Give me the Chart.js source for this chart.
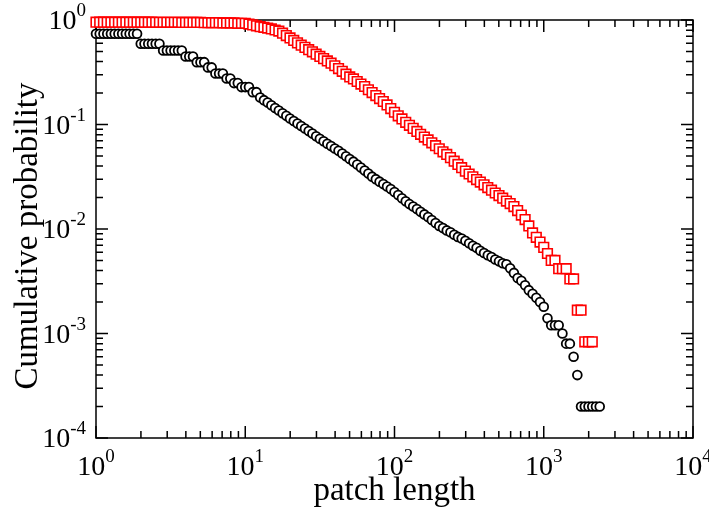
<!DOCTYPE html>
<html><head><meta charset="utf-8">
<script src="https://cdn.jsdelivr.net/npm/chart.js@4/dist/chart.umd.min.js"></script>
<style>html,body{margin:0;padding:0;background:#fff}#wrap{width:709px;height:510px}</style>
</head><body><div id="wrap"><canvas id="c" width="709" height="510"></canvas></div>
<script>
const patchLength = [
1, 1.059, 1.122, 1.189, 1.259, 1.334, 1.413, 1.496, 1.585, 1.679,
1.778, 1.884, 1.995, 2.113, 2.239, 2.371, 2.512, 2.661, 2.818, 2.985,
3.162, 3.350, 3.548, 3.758, 3.981, 4.217, 4.467, 4.732, 5.012, 5.309,
5.623, 5.957, 6.310, 6.683, 7.079, 7.499, 7.943, 8.414, 8.913, 9.441,
10.00, 10.59, 11.22, 11.89, 12.59, 13.34, 14.13, 14.96, 15.85, 16.79,
17.78, 18.84, 19.95, 21.13, 22.39, 23.71, 25.12, 26.61, 28.18, 29.85,
31.62, 33.50, 35.48, 37.58, 39.81, 42.17, 44.67, 47.32, 50.12, 53.09,
56.23, 59.57, 63.10, 66.83, 70.79, 74.99, 79.43, 84.14, 89.13, 94.41,
100.0, 105.9, 112.2, 118.9, 125.9, 133.4, 141.3, 149.6, 158.5, 167.9,
177.8, 188.4, 199.5, 211.3, 223.9, 237.1, 251.2, 266.1, 281.8, 298.5,
316.2, 335.0, 354.8, 375.8, 398.1, 421.7, 446.7, 473.2, 501.2, 530.9,
562.3, 595.7, 631.0, 668.3, 707.9, 749.9, 794.3, 841.4, 891.3, 944.1,
1000, 1059, 1122, 1189, 1259, 1334, 1413, 1496, 1585, 1679,
1778, 1884, 1995, 2113, 2239, 2371, 2512];

const blackProb = [
0.738,0.738,0.738,0.738,0.738,0.738,0.738,0.738,0.738,0.738,0.738,0.738,
0.592,0.592,0.592,0.592,0.592,0.592,
0.511,0.511,0.511,0.511,0.511,0.511,
0.448,0.448,0.448,
0.395,0.395,0.395,
0.352,0.352,
0.308,0.308,0.308,
0.276,0.276,
0.249,0.249,
0.228,0.228,0.228,
0.204,0.204,
0.181,0.171,0.162,0.153,0.144,0.136,0.128,0.121,0.114,0.108,
0.102,0.0968,0.0916,0.0865,0.0818,0.0773,0.0730,0.0691,0.0655,0.0621,
0.0590,0.0560,0.0527,0.0497,0.0468,0.0441,0.0414,0.0387,0.0362,0.0339,
0.0317,0.0300,0.0284,0.0269,0.0255,0.0241,0.0226,0.0211,0.0197,0.0184,
0.0173,0.0164,0.0155,0.0146,0.0138,0.0130,0.0122,0.0114,0.0107,0.0102,
0.0097,0.0093,0.0088,0.0084,0.0081,0.0077,0.0073,0.0069,0.0066,0.0062,
0.0059,0.0056,0.0054,0.0051,0.0049,0.0047,0.0046,0.0042,0.0038,0.0034,
0.0032,0.0029,0.0026,0.0024,0.0022,0.0020,0.0018,0.0014,0.0012,0.0012,
0.0012,0.0010,0.0008,0.0008,0.0006,0.0004,
0.0002,0.0002,0.0002,0.0002,0.0002,0.0002];

const redProb = [
0.953,0.953,0.953,0.953,0.953,0.953,0.953,0.953,0.953,0.953,0.953,0.953,0.953,0.953,0.953,0.953,
0.950,0.950,0.950,0.950,0.950,0.950,0.950,
0.947,0.947,0.947,0.947,0.947,0.947,
0.943,0.943,0.943,0.943,0.943,
0.938,0.938,0.938,0.938,
0.930,0.930,0.930,
0.914,0.898,0.880,0.863,0.852,0.838,0.822,0.802,0.783,0.748,
0.710,0.673,0.638,0.604,0.574,0.547,0.520,0.496,0.471,0.448,
0.427,0.406,0.386,0.365,0.343,0.323,0.303,0.285,0.273,0.258,
0.244,0.231,0.215,0.202,0.189,0.177,0.166,0.154,0.142,0.131,
0.121,0.113,0.105,0.0983,0.0918,0.0859,0.0806,0.0758,0.0711,0.0668,
0.0627,0.0586,0.0548,0.0517,0.0482,0.0446,0.0415,0.0386,0.0358,0.0336,
0.0316,0.0297,0.0281,0.0265,0.0249,0.0235,0.0221,0.0209,0.0197,0.0185,
0.0175,0.0164,0.0150,0.0136,0.0123,0.0107,0.00917,0.00833,0.0075,0.00667,
0.00583,0.005,0.005,0.00417,0.00417,0.00417,0.00333,0.00333,0.00167,0.00167,
0.000833,0.000833,0.000833];

const xDecades = [1, 10, 100, 1000, 10000];
const xExponents = ['0', '1', '2', '3', '4'];
const yDecades = [1, 0.1, 0.01, 0.001, 0.0001];
const yExponents = ['0', '-1', '-2', '-3', '-4'];
const minorSteps = [2, 3, 4, 5, 6, 7, 8, 9];
const xTitle = 'patch length';
const yTitle = 'Cumulative probability';

const FONT = "'Liberation Serif', 'Times New Roman', serif";

function toPoints(ys) {
  return ys.map((v, i) => ({ x: patchLength[i], y: v }));
}

function drawPow(ctx, exp, px, py, align) {
  const big = 28, small = 19;
  ctx.font = big + 'px ' + FONT;
  const w1 = ctx.measureText('10').width;
  ctx.font = small + 'px ' + FONT;
  const w2 = ctx.measureText(exp).width;
  let x0;
  if (align === 'center') x0 = px - (w1 + w2) / 2;
  else x0 = px - (w1 + w2);
  ctx.textAlign = 'left';
  ctx.textBaseline = 'alphabetic';
  ctx.font = big + 'px ' + FONT;
  ctx.fillText('10', x0, py);
  ctx.font = small + 'px ' + FONT;
  ctx.fillText(exp, x0 + w1, py - 13);
}

const framePlugin = {
  id: 'frame',
  beforeDatasetsDraw(chart) {
    const { ctx, chartArea: a, scales: { x, y } } = chart;
    ctx.save();
    ctx.strokeStyle = '#000';
    ctx.lineWidth = 1.5;
    ctx.strokeRect(a.left, a.top, a.right - a.left, a.bottom - a.top);
    const major = 12, minor = 7;
    ctx.beginPath();
    xDecades.forEach((d, i) => {
      const p = x.getPixelForValue(d);
      ctx.moveTo(p, a.bottom); ctx.lineTo(p, a.bottom - major);
      ctx.moveTo(p, a.top); ctx.lineTo(p, a.top + major);
      if (i < xDecades.length - 1) {
        minorSteps.forEach(m => {
          const q = x.getPixelForValue(d * m);
          ctx.moveTo(q, a.bottom); ctx.lineTo(q, a.bottom - minor);
          ctx.moveTo(q, a.top); ctx.lineTo(q, a.top + minor);
        });
      }
    });
    yDecades.forEach((d, i) => {
      const p = y.getPixelForValue(d);
      ctx.moveTo(a.left, p); ctx.lineTo(a.left + major, p);
      ctx.moveTo(a.right, p); ctx.lineTo(a.right - major, p);
      if (i < yDecades.length - 1) {
        minorSteps.forEach(m => {
          const q = y.getPixelForValue(d * m / 10);
          ctx.moveTo(a.left, q); ctx.lineTo(a.left + minor, q);
          ctx.moveTo(a.right, q); ctx.lineTo(a.right - minor, q);
        });
      }
    });
    ctx.stroke();
    ctx.restore();
  },
  afterDraw(chart) {
    const { ctx, chartArea: a, scales: { x, y } } = chart;
    ctx.save();
    ctx.fillStyle = '#000';
    xDecades.forEach((d, i) => {
      drawPow(ctx, xExponents[i], x.getPixelForValue(d), a.bottom + 37, 'center');
    });
    yDecades.forEach((d, i) => {
      drawPow(ctx, yExponents[i], a.left - 10, y.getPixelForValue(d) + 9, 'right');
    });
    ctx.font = '33px ' + FONT;
    ctx.textAlign = 'center';
    ctx.textBaseline = 'alphabetic';
    ctx.fillText(xTitle, (a.left + a.right) / 2, 500);
    ctx.translate(37, 236);
    ctx.rotate(-Math.PI / 2);
    ctx.fillText(yTitle, 0, 0);
    ctx.restore();
  }
};

new Chart(document.getElementById('c'), {
  type: 'scatter',
  data: {
    datasets: [
      {
        label: 'black',
        data: toPoints(blackProb),
        pointStyle: 'circle',
        pointRadius: 4.4,
        pointHoverRadius: 4.4,
        borderColor: '#000',
        backgroundColor: '#fff',
        borderWidth: 1.8,
        clip: false
      },
      {
        label: 'red',
        data: toPoints(redProb),
        pointStyle: 'rect',
        pointRadius: 6.8,
        pointHoverRadius: 6.8,
        borderColor: '#ff0000',
        backgroundColor: '#fff',
        borderWidth: 1.6,
        clip: false
      }
    ]
  },
  options: {
    responsive: false,
    devicePixelRatio: 1,
    animation: false,
    events: [],
    layout: { padding: { top: 20, right: 16, left: 0, bottom: 0 } },
    plugins: { legend: { display: false }, tooltip: { enabled: false } },
    scales: {
      x: {
        type: 'logarithmic', min: 1, max: 10000,
        ticks: { display: false },
        grid: { display: false },
        border: { display: false },
        afterFit(s) { s.height = 72; }
      },
      y: {
        type: 'logarithmic', min: 0.0001, max: 1,
        ticks: { display: false },
        grid: { display: false },
        border: { display: false },
        afterFit(s) { s.width = 96; }
      }
    }
  },
  plugins: [framePlugin]
});
</script>
</body></html>
